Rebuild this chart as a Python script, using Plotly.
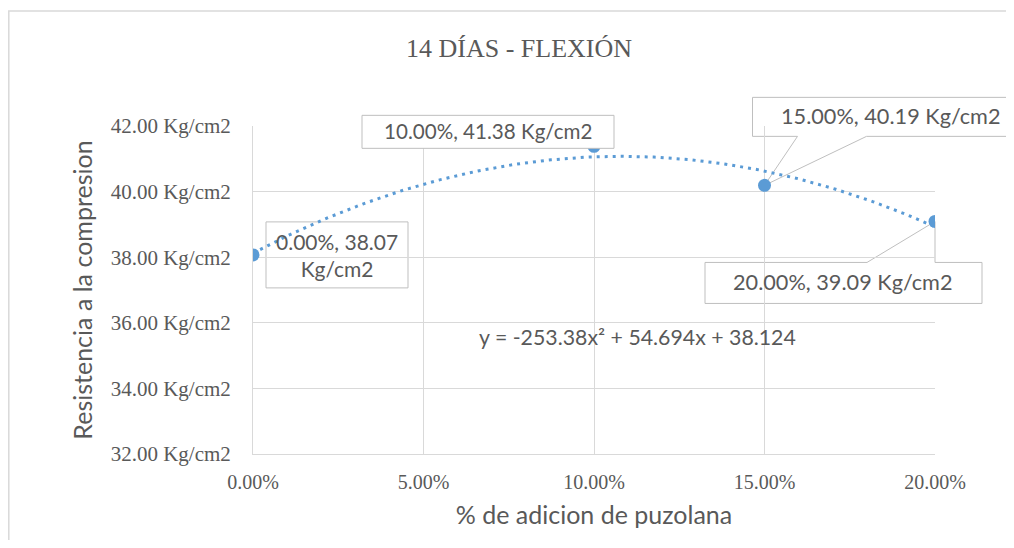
import numpy as np
import plotly.graph_objects as go

# ── data ──────────────────────────────────────────────────────────────────────
adicion = [0.00, 0.10, 0.15, 0.20]
resistencia = [38.07, 41.38, 40.19, 39.09]
coef_tendencia = [-253.38, 54.694, 38.124]   # y = a x^2 + b x + c
x_ticks = [0.00, 0.05, 0.10, 0.15, 0.20]
y_ticks = [32, 34, 36, 38, 40, 42]
y_ticktext = [f"{v:.2f} Kg/cm2" for v in y_ticks]
etiquetas = [
    "0.00%, 38.07<br>Kg/cm2",
    "10.00%, 41.38 Kg/cm2",
    "15.00%, 40.19 Kg/cm2",
    "20.00%, 39.09 Kg/cm2",
]

# page has an 8px body margin, so the figure is 16px smaller than the window
OFF = 8
W, H = 1014 - 2 * OFF, 548 - 2 * OFF
ML, MT = 253 - OFF, 126 - OFF
MR, MB = W - (935 - OFF), H - (454 - OFF)
PW, PH = W - ML - MR, H - MT - MB
XR = [0.0, 0.2]
YR = [32, 42]

GRAY = "#595959"
GRID = "#D9D9D9"
BLUE = "#5B9BD5"
SANS = "Lato, Arial, sans-serif"
SERIF = "Liberation Serif, Times New Roman, serif"


def px_x(p):
    # screen pixel -> paper fraction
    return (p - OFF - ML) / PW


def px_y(p):
    return (H - MB - (p - OFF)) / PH


def xfrac(v):
    return (v - XR[0]) / (XR[1] - XR[0])


def yfrac(v):
    return (v - YR[0]) / (YR[1] - YR[0])


fig = go.Figure()

# trendline (polynomial, order 2)
xs = np.linspace(XR[0], XR[1], 200)
fig.add_trace(go.Scatter(x=xs, y=np.polyval(coef_tendencia, xs), mode="lines",
                         line=dict(color=BLUE, width=3, dash="3px,5px"),
                         hoverinfo="skip", showlegend=False))
fig.add_trace(go.Scatter(x=adicion, y=resistencia, mode="markers",
                         marker=dict(color=BLUE, size=13), showlegend=False))

# label boxes: (path in px relative to the point, layer, text shift, font size)
cajas = [
    ("M13,33 L155,33 L155,-33 L13,-33 Z", "between", (84, 0), 21),
    ("M-232,31 L20,31 L20,-2 L-232,-2 Z", "above", (-106, 15), 20.6),
    ("M-12,88 L270,88 L270,49 L102,49 L0,0 L33,49 L-12,49 Z", "between", (126, 69), 21.7),
    ("M-230,-41 L-68,-41 L0,0 L0,-41 L47,-41 L47,-82 L-230,-82 Z", "between", (-92, -61), 21.7),
]
for x, y, txt, (path, layer, (dx, dy), fs) in zip(adicion, resistencia, etiquetas, cajas):
    fig.add_shape(type="path", xref="paper", yref="paper",
                  xsizemode="pixel", ysizemode="pixel",
                  xanchor=xfrac(x), yanchor=yfrac(y), path=path,
                  line=dict(color="#BFBFBF", width=1), fillcolor="white", layer=layer)
    fig.add_annotation(x=x, y=y, xref="x", yref="y", text=txt, showarrow=False,
                       xshift=dx, yshift=dy, align="center",
                       font=dict(family=SANS, size=fs, color=GRAY))

# trendline equation
fig.add_annotation(x=px_x(637), y=px_y(337), xref="paper", yref="paper",
                   text="y = -253.38x² + 54.694x + 38.124", showarrow=False,
                   font=dict(family=SANS, size=21.3, color=GRAY))

# chart area border (only left and top edges are inside the picture)
fig.add_shape(type="path", xref="paper", yref="paper",
              path=f"M{px_x(8.8)},{px_y(600)} L{px_x(8.8)},{px_y(11)} L{px_x(1060)},{px_y(11)}",
              line=dict(color=GRID, width=1.5), layer="below")

fig.update_layout(
    width=W, height=H,
    margin=dict(l=ML, r=MR, t=MT, b=MB),
    paper_bgcolor="white", plot_bgcolor="white",
    title=dict(text="14 DÍAS - FLEXIÓN", x=(519 - OFF) / W, xref="container", xanchor="center",
               y=1 - (48 - OFF) / H, yref="container", yanchor="middle",
               font=dict(family=SERIF, size=26, color=GRAY)),
    xaxis=dict(range=XR, tickvals=x_ticks, tickformat=".2%",
               showgrid=True, gridcolor=GRID, gridwidth=1, zeroline=False,
               showline=True, linecolor=GRID, linewidth=1,
               ticks="", ticklabelstandoff=10,
               tickfont=dict(family=SERIF, size=20, color=GRAY),
               title=dict(text="% de adicion de puzolana", standoff=14,
                          font=dict(family=SANS, size=25, color=GRAY))),
    yaxis=dict(range=YR, tickvals=y_ticks, ticktext=y_ticktext,
               showgrid=True, gridcolor=GRID, gridwidth=1, zeroline=False,
               showline=True, linecolor=GRID, linewidth=1,
               ticks="", ticklabelstandoff=17,
               tickfont=dict(family=SERIF, size=21, color=GRAY),
               title=dict(text="Resistencia a la compresion", standoff=10,
                          font=dict(family=SANS, size=25, color=GRAY))),
)

fig.write_html("out.html")
